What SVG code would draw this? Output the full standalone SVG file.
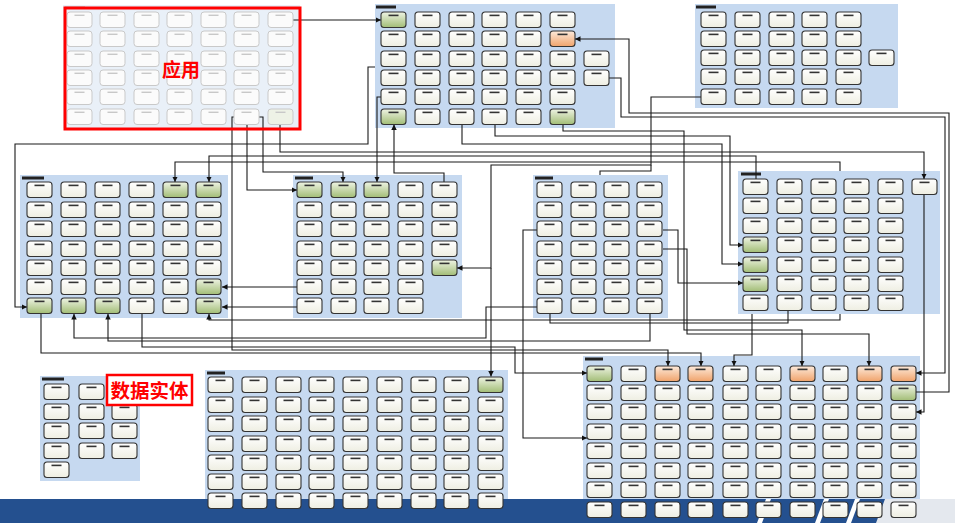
<svg xmlns="http://www.w3.org/2000/svg" width="955" height="523" viewBox="0 0 955 523">
<defs>
<linearGradient id="gw" x1="0" y1="0" x2="0" y2="1"><stop offset="0" stop-color="#ffffff"/><stop offset="1" stop-color="#eeeee2"/></linearGradient>
<linearGradient id="gg" x1="0" y1="0" x2="0" y2="1"><stop offset="0" stop-color="#eef3e3"/><stop offset="1" stop-color="#a2bd76"/></linearGradient>
<linearGradient id="go" x1="0" y1="0" x2="0" y2="1"><stop offset="0" stop-color="#fdeadb"/><stop offset="1" stop-color="#f0a36b"/></linearGradient>
<marker id="ar" viewBox="0 0 10 10" refX="10" refY="5" markerWidth="5" markerHeight="5" orient="auto-start-reverse"><path d="M0,0L10,5L0,10z" fill="#111"/></marker>
<g id="n"><rect width="25" height="15.5" rx="3" fill="url(#gw)" stroke="#333" stroke-width="1.1"/><rect x="7.5" y="2.6" width="10" height="1.6" fill="#333"/></g>
<g id="g"><rect width="25" height="15.5" rx="3" fill="url(#gg)" stroke="#333" stroke-width="1.1"/><rect x="7.5" y="2.6" width="10" height="1.6" fill="#333"/></g>
<g id="o"><rect width="25" height="15.5" rx="3" fill="url(#go)" stroke="#333" stroke-width="1.1"/><rect x="7.5" y="2.6" width="10" height="1.6" fill="#333"/></g>
<g id="f"><rect width="25" height="15.5" rx="3" fill="#fbfbfb" stroke="#c9c9c9" stroke-width="1"/><rect x="7.5" y="2.6" width="10" height="1.4" fill="#c8c8c8"/></g>
<g id="fg"><rect width="25" height="15.5" rx="3" fill="#eef2e6" stroke="#c9c9c9" stroke-width="1"/><rect x="7.5" y="2.6" width="10" height="1.4" fill="#c8c8c8"/></g>
</defs>
<style>
.pn{fill:#c6d9f0}
.pf{fill:#e9f0f8}
.tt{fill:#222}
.cn path{fill:none;stroke:#1a1a1a;stroke-width:1.1}
.ae{marker-end:url(#ar)}
.lb{font-family:"Noto Sans CJK SC","Noto Sans CJK JP",sans-serif;font-weight:bold;fill:#ff0000;text-anchor:middle}
</style>
<rect width="955" height="523" fill="#ffffff"/>
<g id="panels">
<rect class="pf" x="63" y="5" width="237" height="123"/>
<rect class="pn" x="375" y="4" width="240" height="124"/>
<rect class="pn" x="695" y="4" width="203" height="104"/>
<rect class="pn" x="20" y="175" width="208" height="143"/>
<rect class="pn" x="293" y="175" width="169" height="143"/>
<rect class="pn" x="533" y="175" width="135" height="143"/>
<rect class="pn" x="738" y="171" width="202" height="143"/>
<rect class="pn" x="40" y="376" width="100" height="105"/>
<rect class="pn" x="205" y="370" width="303" height="142"/>
<rect class="pn" x="583" y="356" width="337" height="164"/>
<rect x="65" y="6" width="20" height="2.5" fill="#d0d0d0"/>
<rect class="tt" x="376" y="5.5" width="20" height="3"/>
<rect class="tt" x="696" y="5.5" width="20" height="3"/>
<rect class="tt" x="22" y="176.5" width="22" height="3"/>
<rect class="tt" x="295" y="176.5" width="18" height="3"/>
<rect class="tt" x="535" y="176.5" width="18" height="3"/>
<rect class="tt" x="741" y="172.5" width="20" height="3"/>
<rect class="tt" x="42" y="377.5" width="22" height="3"/>
<rect class="tt" x="207" y="371.5" width="18" height="3"/>
<rect class="tt" x="585" y="357.5" width="18" height="3"/>
</g>
<g id="footer">
<rect x="0" y="499" width="955" height="24" fill="#24508f"/>
<polygon points="757,523 766,499 771,499 762,523" fill="#ffffff"/>
<polygon points="815,523 824,499 829,499 820,523" fill="#ffffff"/>
<polygon points="846,523 855,499 860,499 851,523" fill="#ffffff"/>
<polygon points="876,523 885,499 955,499 955,523" fill="#e4e8ee"/>
</g>
<g id="connectors" class="cn">
<path class="ae" d="M293,20H381"/>
<path class="ae" d="M375,67H368V144H15V307H27"/>
<path class="ae" d="M381,97H377V182"/>
<path class="ae" d="M444,182V173H394V124.5"/>
<path class="ae" d="M259,117H263V172H343V182"/>
<path class="ae" d="M247,124.5V190H297"/>
<path class="ae" d="M234,117H232V350H668V366"/>
<path class="ae" d="M280,124.5V152H924V179"/>
<path class="ae" d="M462,124.5V144H722V264H743"/>
<path class="ae" d="M495,124.5V136H730V245H743"/>
<path class="ae" d="M701,97H651V165H491V268H457"/>
<path d="M651,165V171H600V175"/>
<path class="ae" d="M491,268V376.5"/>
<path class="ae" d="M563,124.5V131H684V330H802V366"/>
<path class="ae" d="M916,392H949V113H629V39H575"/>
<path class="ae" d="M609,78H621V117H945V373H916"/>
<path class="ae" d="M924,194.5V412H916"/>
<path class="ae" d="M297,287H222"/>
<path class="ae" d="M297,307H222"/>
<path class="ae" d="M537,230H523V438H587"/>
<path class="ae" d="M537,307H486V338H74V314"/>
<path class="ae" d="M840,171V162H175V182"/>
<path class="ae" d="M756,179V156H209V182"/>
<path class="ae" d="M41,314V353H701V366"/>
<path class="ae" d="M840,314V320H209V314"/>
<path d="M550,314V323H788V311"/>
<path class="ae" d="M650,314V341H108V314"/>
<path class="ae" d="M663,230H678V283H743"/>
<path class="ae" d="M663,249H687V334H869V366"/>
<path class="ae" d="M752,314V355H734V366"/>
<path class="ae" d="M142,314V347H515V373H587"/>
</g>
<g id="nodes">
<g id="A-0-0"><use href="#f" x="67" y="12"/></g><g id="A-0-1"><use href="#f" x="100" y="12"/></g><g id="A-0-2"><use href="#f" x="134" y="12"/></g><g id="A-0-3"><use href="#f" x="167" y="12"/></g><g id="A-0-4"><use href="#f" x="201" y="12"/></g><g id="A-0-5"><use href="#f" x="234" y="12"/></g><g id="A-0-6"><use href="#f" x="268" y="12"/></g>
<g id="A-1-0"><use href="#f" x="67" y="31"/></g><g id="A-1-1"><use href="#f" x="100" y="31"/></g><g id="A-1-2"><use href="#f" x="134" y="31"/></g><g id="A-1-3"><use href="#f" x="167" y="31"/></g><g id="A-1-4"><use href="#f" x="201" y="31"/></g><g id="A-1-5"><use href="#f" x="234" y="31"/></g><g id="A-1-6"><use href="#f" x="268" y="31"/></g>
<g id="A-2-0"><use href="#f" x="67" y="51"/></g><g id="A-2-1"><use href="#f" x="100" y="51"/></g><g id="A-2-2"><use href="#f" x="134" y="51"/></g><g id="A-2-3"><use href="#f" x="167" y="51"/></g><g id="A-2-4"><use href="#f" x="201" y="51"/></g><g id="A-2-5"><use href="#f" x="234" y="51"/></g><g id="A-2-6"><use href="#f" x="268" y="51"/></g>
<g id="A-3-0"><use href="#f" x="67" y="70"/></g><g id="A-3-1"><use href="#f" x="100" y="70"/></g><g id="A-3-2"><use href="#f" x="134" y="70"/></g><g id="A-3-3"><use href="#f" x="167" y="70"/></g><g id="A-3-4"><use href="#f" x="201" y="70"/></g><g id="A-3-5"><use href="#f" x="234" y="70"/></g><g id="A-3-6"><use href="#f" x="268" y="70"/></g>
<g id="A-4-0"><use href="#f" x="67" y="89"/></g><g id="A-4-1"><use href="#f" x="100" y="89"/></g><g id="A-4-2"><use href="#f" x="134" y="89"/></g><g id="A-4-3"><use href="#f" x="167" y="89"/></g><g id="A-4-4"><use href="#f" x="201" y="89"/></g><g id="A-4-5"><use href="#f" x="234" y="89"/></g><g id="A-4-6"><use href="#f" x="268" y="89"/></g>
<g id="A-5-0"><use href="#f" x="67" y="109"/></g><g id="A-5-1"><use href="#f" x="100" y="109"/></g><g id="A-5-2"><use href="#f" x="134" y="109"/></g><g id="A-5-3"><use href="#f" x="167" y="109"/></g><g id="A-5-4"><use href="#f" x="201" y="109"/></g><g id="A-5-5"><use href="#f" x="234" y="109"/></g><g id="A-5-6"><use href="#fg" x="268" y="109"/></g>

<g id="B-0-0"><use href="#g" x="381" y="12"/></g><g id="B-0-1"><use href="#n" x="415" y="12"/></g><g id="B-0-2"><use href="#n" x="449" y="12"/></g><g id="B-0-3"><use href="#n" x="482" y="12"/></g><g id="B-0-4"><use href="#n" x="516" y="12"/></g><g id="B-0-5"><use href="#n" x="550" y="12"/></g>
<g id="B-1-0"><use href="#n" x="381" y="31"/></g><g id="B-1-1"><use href="#n" x="415" y="31"/></g><g id="B-1-2"><use href="#n" x="449" y="31"/></g><g id="B-1-3"><use href="#n" x="482" y="31"/></g><g id="B-1-4"><use href="#n" x="516" y="31"/></g><g id="B-1-5"><use href="#o" x="550" y="31"/></g>
<g id="B-2-0"><use href="#n" x="381" y="51"/></g><g id="B-2-1"><use href="#n" x="415" y="51"/></g><g id="B-2-2"><use href="#n" x="449" y="51"/></g><g id="B-2-3"><use href="#n" x="482" y="51"/></g><g id="B-2-4"><use href="#n" x="516" y="51"/></g><g id="B-2-5"><use href="#n" x="550" y="51"/></g><g id="B-2-6"><use href="#n" x="584" y="51"/></g>
<g id="B-3-0"><use href="#n" x="381" y="70"/></g><g id="B-3-1"><use href="#n" x="415" y="70"/></g><g id="B-3-2"><use href="#n" x="449" y="70"/></g><g id="B-3-3"><use href="#n" x="482" y="70"/></g><g id="B-3-4"><use href="#n" x="516" y="70"/></g><g id="B-3-5"><use href="#n" x="550" y="70"/></g><g id="B-3-6"><use href="#n" x="584" y="70"/></g>
<g id="B-4-0"><use href="#n" x="381" y="89"/></g><g id="B-4-1"><use href="#n" x="415" y="89"/></g><g id="B-4-2"><use href="#n" x="449" y="89"/></g><g id="B-4-3"><use href="#n" x="482" y="89"/></g><g id="B-4-4"><use href="#n" x="516" y="89"/></g><g id="B-4-5"><use href="#n" x="550" y="89"/></g>
<g id="B-5-0"><use href="#g" x="381" y="109"/></g><g id="B-5-1"><use href="#n" x="415" y="109"/></g><g id="B-5-2"><use href="#n" x="449" y="109"/></g><g id="B-5-3"><use href="#n" x="482" y="109"/></g><g id="B-5-4"><use href="#n" x="516" y="109"/></g><g id="B-5-5"><use href="#g" x="550" y="109"/></g>

<g id="C-0-0"><use href="#n" x="701" y="12"/></g><g id="C-0-1"><use href="#n" x="735" y="12"/></g><g id="C-0-2"><use href="#n" x="769" y="12"/></g><g id="C-0-3"><use href="#n" x="802" y="12"/></g><g id="C-0-4"><use href="#n" x="836" y="12"/></g>
<g id="C-1-0"><use href="#n" x="701" y="31"/></g><g id="C-1-1"><use href="#n" x="735" y="31"/></g><g id="C-1-2"><use href="#n" x="769" y="31"/></g><g id="C-1-3"><use href="#n" x="802" y="31"/></g><g id="C-1-4"><use href="#n" x="836" y="31"/></g>
<g id="C-2-0"><use href="#n" x="701" y="50"/></g><g id="C-2-1"><use href="#n" x="735" y="50"/></g><g id="C-2-2"><use href="#n" x="769" y="50"/></g><g id="C-2-3"><use href="#n" x="802" y="50"/></g><g id="C-2-4"><use href="#n" x="836" y="50"/></g><g id="C-2-5"><use href="#n" x="869" y="50"/></g>
<g id="C-3-0"><use href="#n" x="701" y="69"/></g><g id="C-3-1"><use href="#n" x="735" y="69"/></g><g id="C-3-2"><use href="#n" x="769" y="69"/></g><g id="C-3-3"><use href="#n" x="802" y="69"/></g><g id="C-3-4"><use href="#n" x="836" y="69"/></g>
<g id="C-4-0"><use href="#n" x="701" y="89"/></g><g id="C-4-1"><use href="#n" x="735" y="89"/></g><g id="C-4-2"><use href="#n" x="769" y="89"/></g><g id="C-4-3"><use href="#n" x="802" y="89"/></g><g id="C-4-4"><use href="#n" x="836" y="89"/></g>

<g id="D-0-0"><use href="#n" x="27" y="182"/></g><g id="D-0-1"><use href="#n" x="61" y="182"/></g><g id="D-0-2"><use href="#n" x="95" y="182"/></g><g id="D-0-3"><use href="#n" x="129" y="182"/></g><g id="D-0-4"><use href="#g" x="163" y="182"/></g><g id="D-0-5"><use href="#g" x="196" y="182"/></g>
<g id="D-1-0"><use href="#n" x="27" y="202"/></g><g id="D-1-1"><use href="#n" x="61" y="202"/></g><g id="D-1-2"><use href="#n" x="95" y="202"/></g><g id="D-1-3"><use href="#n" x="129" y="202"/></g><g id="D-1-4"><use href="#n" x="163" y="202"/></g><g id="D-1-5"><use href="#n" x="196" y="202"/></g>
<g id="D-2-0"><use href="#n" x="27" y="221"/></g><g id="D-2-1"><use href="#n" x="61" y="221"/></g><g id="D-2-2"><use href="#n" x="95" y="221"/></g><g id="D-2-3"><use href="#n" x="129" y="221"/></g><g id="D-2-4"><use href="#n" x="163" y="221"/></g><g id="D-2-5"><use href="#n" x="196" y="221"/></g>
<g id="D-3-0"><use href="#n" x="27" y="241"/></g><g id="D-3-1"><use href="#n" x="61" y="241"/></g><g id="D-3-2"><use href="#n" x="95" y="241"/></g><g id="D-3-3"><use href="#n" x="129" y="241"/></g><g id="D-3-4"><use href="#n" x="163" y="241"/></g><g id="D-3-5"><use href="#n" x="196" y="241"/></g>
<g id="D-4-0"><use href="#n" x="27" y="260"/></g><g id="D-4-1"><use href="#n" x="61" y="260"/></g><g id="D-4-2"><use href="#n" x="95" y="260"/></g><g id="D-4-3"><use href="#n" x="129" y="260"/></g><g id="D-4-4"><use href="#n" x="163" y="260"/></g><g id="D-4-5"><use href="#n" x="196" y="260"/></g>
<g id="D-5-0"><use href="#n" x="27" y="279"/></g><g id="D-5-1"><use href="#n" x="61" y="279"/></g><g id="D-5-2"><use href="#n" x="95" y="279"/></g><g id="D-5-3"><use href="#n" x="129" y="279"/></g><g id="D-5-4"><use href="#n" x="163" y="279"/></g><g id="D-5-5"><use href="#g" x="196" y="279"/></g>
<g id="D-6-0"><use href="#g" x="27" y="298"/></g><g id="D-6-1"><use href="#g" x="61" y="298"/></g><g id="D-6-2"><use href="#g" x="95" y="298"/></g><g id="D-6-3"><use href="#n" x="129" y="298"/></g><g id="D-6-4"><use href="#n" x="163" y="298"/></g><g id="D-6-5"><use href="#g" x="196" y="298"/></g>

<g id="E-0-0"><use href="#g" x="297" y="182"/></g><g id="E-0-1"><use href="#g" x="331" y="182"/></g><g id="E-0-2"><use href="#g" x="364" y="182"/></g><g id="E-0-3"><use href="#n" x="398" y="182"/></g><g id="E-0-4"><use href="#n" x="432" y="182"/></g>
<g id="E-1-0"><use href="#n" x="297" y="202"/></g><g id="E-1-1"><use href="#n" x="331" y="202"/></g><g id="E-1-2"><use href="#n" x="364" y="202"/></g><g id="E-1-3"><use href="#n" x="398" y="202"/></g><g id="E-1-4"><use href="#n" x="432" y="202"/></g>
<g id="E-2-0"><use href="#n" x="297" y="221"/></g><g id="E-2-1"><use href="#n" x="331" y="221"/></g><g id="E-2-2"><use href="#n" x="364" y="221"/></g><g id="E-2-3"><use href="#n" x="398" y="221"/></g><g id="E-2-4"><use href="#n" x="432" y="221"/></g>
<g id="E-3-0"><use href="#n" x="297" y="241"/></g><g id="E-3-1"><use href="#n" x="331" y="241"/></g><g id="E-3-2"><use href="#n" x="364" y="241"/></g><g id="E-3-3"><use href="#n" x="398" y="241"/></g><g id="E-3-4"><use href="#n" x="432" y="241"/></g>
<g id="E-4-0"><use href="#n" x="297" y="260"/></g><g id="E-4-1"><use href="#n" x="331" y="260"/></g><g id="E-4-2"><use href="#n" x="364" y="260"/></g><g id="E-4-3"><use href="#n" x="398" y="260"/></g><g id="E-4-4"><use href="#g" x="432" y="260"/></g>
<g id="E-5-0"><use href="#n" x="297" y="279"/></g><g id="E-5-1"><use href="#n" x="331" y="279"/></g><g id="E-5-2"><use href="#n" x="364" y="279"/></g><g id="E-5-3"><use href="#n" x="398" y="279"/></g>
<g id="E-6-0"><use href="#n" x="297" y="298"/></g><g id="E-6-1"><use href="#n" x="331" y="298"/></g><g id="E-6-2"><use href="#n" x="364" y="298"/></g><g id="E-6-3"><use href="#n" x="398" y="298"/></g>

<g id="F-0-0"><use href="#n" x="537" y="182"/></g><g id="F-0-1"><use href="#n" x="571" y="182"/></g><g id="F-0-2"><use href="#n" x="604" y="182"/></g><g id="F-0-3"><use href="#n" x="637" y="182"/></g>
<g id="F-1-0"><use href="#n" x="537" y="202"/></g><g id="F-1-1"><use href="#n" x="571" y="202"/></g><g id="F-1-2"><use href="#n" x="604" y="202"/></g><g id="F-1-3"><use href="#n" x="637" y="202"/></g>
<g id="F-2-0"><use href="#n" x="537" y="221"/></g><g id="F-2-1"><use href="#n" x="571" y="221"/></g><g id="F-2-2"><use href="#n" x="604" y="221"/></g><g id="F-2-3"><use href="#n" x="637" y="221"/></g>
<g id="F-3-0"><use href="#n" x="537" y="241"/></g><g id="F-3-1"><use href="#n" x="571" y="241"/></g><g id="F-3-2"><use href="#n" x="604" y="241"/></g><g id="F-3-3"><use href="#n" x="637" y="241"/></g>
<g id="F-4-0"><use href="#n" x="537" y="260"/></g><g id="F-4-1"><use href="#n" x="571" y="260"/></g><g id="F-4-2"><use href="#n" x="604" y="260"/></g><g id="F-4-3"><use href="#n" x="637" y="260"/></g>
<g id="F-5-0"><use href="#n" x="537" y="279"/></g><g id="F-5-1"><use href="#n" x="571" y="279"/></g><g id="F-5-2"><use href="#n" x="604" y="279"/></g><g id="F-5-3"><use href="#n" x="637" y="279"/></g>
<g id="F-6-0"><use href="#n" x="537" y="298"/></g><g id="F-6-1"><use href="#n" x="571" y="298"/></g><g id="F-6-2"><use href="#n" x="604" y="298"/></g><g id="F-6-3"><use href="#n" x="637" y="298"/></g>

<g id="G-0-0"><use href="#n" x="743" y="179"/></g><g id="G-0-1"><use href="#n" x="777" y="179"/></g><g id="G-0-2"><use href="#n" x="811" y="179"/></g><g id="G-0-3"><use href="#n" x="844" y="179"/></g><g id="G-0-4"><use href="#n" x="878" y="179"/></g><g id="G-0-5"><use href="#n" x="912" y="179"/></g>
<g id="G-1-0"><use href="#n" x="743" y="198"/></g><g id="G-1-1"><use href="#n" x="777" y="198"/></g><g id="G-1-2"><use href="#n" x="811" y="198"/></g><g id="G-1-3"><use href="#n" x="844" y="198"/></g><g id="G-1-4"><use href="#n" x="878" y="198"/></g>
<g id="G-2-0"><use href="#n" x="743" y="218"/></g><g id="G-2-1"><use href="#n" x="777" y="218"/></g><g id="G-2-2"><use href="#n" x="811" y="218"/></g><g id="G-2-3"><use href="#n" x="844" y="218"/></g><g id="G-2-4"><use href="#n" x="878" y="218"/></g>
<g id="G-3-0"><use href="#g" x="743" y="237"/></g><g id="G-3-1"><use href="#n" x="777" y="237"/></g><g id="G-3-2"><use href="#n" x="811" y="237"/></g><g id="G-3-3"><use href="#n" x="844" y="237"/></g><g id="G-3-4"><use href="#n" x="878" y="237"/></g>
<g id="G-4-0"><use href="#g" x="743" y="257"/></g><g id="G-4-1"><use href="#n" x="777" y="257"/></g><g id="G-4-2"><use href="#n" x="811" y="257"/></g><g id="G-4-3"><use href="#n" x="844" y="257"/></g><g id="G-4-4"><use href="#n" x="878" y="257"/></g>
<g id="G-5-0"><use href="#g" x="743" y="276"/></g><g id="G-5-1"><use href="#n" x="777" y="276"/></g><g id="G-5-2"><use href="#n" x="811" y="276"/></g><g id="G-5-3"><use href="#n" x="844" y="276"/></g><g id="G-5-4"><use href="#n" x="878" y="276"/></g>
<g id="G-6-0"><use href="#n" x="743" y="295"/></g><g id="G-6-1"><use href="#n" x="777" y="295"/></g><g id="G-6-2"><use href="#n" x="811" y="295"/></g><g id="G-6-3"><use href="#n" x="844" y="295"/></g><g id="G-6-4"><use href="#n" x="878" y="295"/></g>

<g id="H-0-0"><use href="#n" x="44" y="384"/></g><g id="H-0-1"><use href="#n" x="79" y="384"/></g><g id="H-0-2"><use href="#n" x="112" y="384"/></g>
<g id="H-1-0"><use href="#n" x="44" y="404"/></g><g id="H-1-1"><use href="#n" x="79" y="404"/></g><g id="H-1-2"><use href="#n" x="112" y="404"/></g>
<g id="H-2-0"><use href="#n" x="44" y="423"/></g><g id="H-2-1"><use href="#n" x="79" y="423"/></g><g id="H-2-2"><use href="#n" x="112" y="423"/></g>
<g id="H-3-0"><use href="#n" x="44" y="443"/></g><g id="H-3-1"><use href="#n" x="79" y="443"/></g><g id="H-3-2"><use href="#n" x="112" y="443"/></g>
<g id="H-4-0"><use href="#n" x="44" y="462"/></g>

<g id="I-0-0"><use href="#n" x="208" y="377"/></g><g id="I-0-1"><use href="#n" x="242" y="377"/></g><g id="I-0-2"><use href="#n" x="276" y="377"/></g><g id="I-0-3"><use href="#n" x="309" y="377"/></g><g id="I-0-4"><use href="#n" x="343" y="377"/></g><g id="I-0-5"><use href="#n" x="377" y="377"/></g><g id="I-0-6"><use href="#n" x="411" y="377"/></g><g id="I-0-7"><use href="#n" x="444" y="377"/></g><g id="I-0-8"><use href="#g" x="478" y="377"/></g>
<g id="I-1-0"><use href="#n" x="208" y="397"/></g><g id="I-1-1"><use href="#n" x="242" y="397"/></g><g id="I-1-2"><use href="#n" x="276" y="397"/></g><g id="I-1-3"><use href="#n" x="309" y="397"/></g><g id="I-1-4"><use href="#n" x="343" y="397"/></g><g id="I-1-5"><use href="#n" x="377" y="397"/></g><g id="I-1-6"><use href="#n" x="411" y="397"/></g><g id="I-1-7"><use href="#n" x="444" y="397"/></g><g id="I-1-8"><use href="#n" x="478" y="397"/></g>
<g id="I-2-0"><use href="#n" x="208" y="416"/></g><g id="I-2-1"><use href="#n" x="242" y="416"/></g><g id="I-2-2"><use href="#n" x="276" y="416"/></g><g id="I-2-3"><use href="#n" x="309" y="416"/></g><g id="I-2-4"><use href="#n" x="343" y="416"/></g><g id="I-2-5"><use href="#n" x="377" y="416"/></g><g id="I-2-6"><use href="#n" x="411" y="416"/></g><g id="I-2-7"><use href="#n" x="444" y="416"/></g><g id="I-2-8"><use href="#n" x="478" y="416"/></g>
<g id="I-3-0"><use href="#n" x="208" y="436"/></g><g id="I-3-1"><use href="#n" x="242" y="436"/></g><g id="I-3-2"><use href="#n" x="276" y="436"/></g><g id="I-3-3"><use href="#n" x="309" y="436"/></g><g id="I-3-4"><use href="#n" x="343" y="436"/></g><g id="I-3-5"><use href="#n" x="377" y="436"/></g><g id="I-3-6"><use href="#n" x="411" y="436"/></g><g id="I-3-7"><use href="#n" x="444" y="436"/></g><g id="I-3-8"><use href="#n" x="478" y="436"/></g>
<g id="I-4-0"><use href="#n" x="208" y="455"/></g><g id="I-4-1"><use href="#n" x="242" y="455"/></g><g id="I-4-2"><use href="#n" x="276" y="455"/></g><g id="I-4-3"><use href="#n" x="309" y="455"/></g><g id="I-4-4"><use href="#n" x="343" y="455"/></g><g id="I-4-5"><use href="#n" x="377" y="455"/></g><g id="I-4-6"><use href="#n" x="411" y="455"/></g><g id="I-4-7"><use href="#n" x="444" y="455"/></g><g id="I-4-8"><use href="#n" x="478" y="455"/></g>
<g id="I-5-0"><use href="#n" x="208" y="474"/></g><g id="I-5-1"><use href="#n" x="242" y="474"/></g><g id="I-5-2"><use href="#n" x="276" y="474"/></g><g id="I-5-3"><use href="#n" x="309" y="474"/></g><g id="I-5-4"><use href="#n" x="343" y="474"/></g><g id="I-5-5"><use href="#n" x="377" y="474"/></g><g id="I-5-6"><use href="#n" x="411" y="474"/></g><g id="I-5-7"><use href="#n" x="444" y="474"/></g><g id="I-5-8"><use href="#n" x="478" y="474"/></g>
<g id="I-6-0"><use href="#n" x="208" y="493"/></g><g id="I-6-1"><use href="#n" x="242" y="493"/></g><g id="I-6-2"><use href="#n" x="276" y="493"/></g><g id="I-6-3"><use href="#n" x="309" y="493"/></g><g id="I-6-4"><use href="#n" x="343" y="493"/></g><g id="I-6-5"><use href="#n" x="377" y="493"/></g><g id="I-6-6"><use href="#n" x="411" y="493"/></g><g id="I-6-7"><use href="#n" x="444" y="493"/></g><g id="I-6-8"><use href="#n" x="478" y="493"/></g>

<g id="J-0-0"><use href="#g" x="587" y="366"/></g><g id="J-0-1"><use href="#n" x="621" y="366"/></g><g id="J-0-2"><use href="#o" x="655" y="366"/></g><g id="J-0-3"><use href="#o" x="688" y="366"/></g><g id="J-0-4"><use href="#n" x="723" y="366"/></g><g id="J-0-5"><use href="#n" x="756" y="366"/></g><g id="J-0-6"><use href="#o" x="790" y="366"/></g><g id="J-0-7"><use href="#n" x="823" y="366"/></g><g id="J-0-8"><use href="#o" x="857" y="366"/></g><g id="J-0-9"><use href="#o" x="891" y="366"/></g>
<g id="J-1-0"><use href="#n" x="587" y="385"/></g><g id="J-1-1"><use href="#n" x="621" y="385"/></g><g id="J-1-2"><use href="#n" x="655" y="385"/></g><g id="J-1-3"><use href="#n" x="688" y="385"/></g><g id="J-1-4"><use href="#n" x="723" y="385"/></g><g id="J-1-5"><use href="#n" x="756" y="385"/></g><g id="J-1-6"><use href="#n" x="790" y="385"/></g><g id="J-1-7"><use href="#n" x="823" y="385"/></g><g id="J-1-8"><use href="#n" x="857" y="385"/></g><g id="J-1-9"><use href="#g" x="891" y="385"/></g>
<g id="J-2-0"><use href="#n" x="587" y="404"/></g><g id="J-2-1"><use href="#n" x="621" y="404"/></g><g id="J-2-2"><use href="#n" x="655" y="404"/></g><g id="J-2-3"><use href="#n" x="688" y="404"/></g><g id="J-2-4"><use href="#n" x="723" y="404"/></g><g id="J-2-5"><use href="#n" x="756" y="404"/></g><g id="J-2-6"><use href="#n" x="790" y="404"/></g><g id="J-2-7"><use href="#n" x="823" y="404"/></g><g id="J-2-8"><use href="#n" x="857" y="404"/></g><g id="J-2-9"><use href="#n" x="891" y="404"/></g>
<g id="J-3-0"><use href="#n" x="587" y="424"/></g><g id="J-3-1"><use href="#n" x="621" y="424"/></g><g id="J-3-2"><use href="#n" x="655" y="424"/></g><g id="J-3-3"><use href="#n" x="688" y="424"/></g><g id="J-3-4"><use href="#n" x="723" y="424"/></g><g id="J-3-5"><use href="#n" x="756" y="424"/></g><g id="J-3-6"><use href="#n" x="790" y="424"/></g><g id="J-3-7"><use href="#n" x="823" y="424"/></g><g id="J-3-8"><use href="#n" x="857" y="424"/></g><g id="J-3-9"><use href="#n" x="891" y="424"/></g>
<g id="J-4-0"><use href="#n" x="587" y="443"/></g><g id="J-4-1"><use href="#n" x="621" y="443"/></g><g id="J-4-2"><use href="#n" x="655" y="443"/></g><g id="J-4-3"><use href="#n" x="688" y="443"/></g><g id="J-4-4"><use href="#n" x="723" y="443"/></g><g id="J-4-5"><use href="#n" x="756" y="443"/></g><g id="J-4-6"><use href="#n" x="790" y="443"/></g><g id="J-4-7"><use href="#n" x="823" y="443"/></g><g id="J-4-8"><use href="#n" x="857" y="443"/></g><g id="J-4-9"><use href="#n" x="891" y="443"/></g>
<g id="J-5-0"><use href="#n" x="587" y="463"/></g><g id="J-5-1"><use href="#n" x="621" y="463"/></g><g id="J-5-2"><use href="#n" x="655" y="463"/></g><g id="J-5-3"><use href="#n" x="688" y="463"/></g><g id="J-5-4"><use href="#n" x="723" y="463"/></g><g id="J-5-5"><use href="#n" x="756" y="463"/></g><g id="J-5-6"><use href="#n" x="790" y="463"/></g><g id="J-5-7"><use href="#n" x="823" y="463"/></g><g id="J-5-8"><use href="#n" x="857" y="463"/></g><g id="J-5-9"><use href="#n" x="891" y="463"/></g>
<g id="J-6-0"><use href="#n" x="587" y="482"/></g><g id="J-6-1"><use href="#n" x="621" y="482"/></g><g id="J-6-2"><use href="#n" x="655" y="482"/></g><g id="J-6-3"><use href="#n" x="688" y="482"/></g><g id="J-6-4"><use href="#n" x="723" y="482"/></g><g id="J-6-5"><use href="#n" x="756" y="482"/></g><g id="J-6-6"><use href="#n" x="790" y="482"/></g><g id="J-6-7"><use href="#n" x="823" y="482"/></g><g id="J-6-8"><use href="#n" x="857" y="482"/></g><g id="J-6-9"><use href="#n" x="891" y="482"/></g>
<g id="J-7-0"><use href="#n" x="587" y="502"/></g><g id="J-7-1"><use href="#n" x="621" y="502"/></g><g id="J-7-2"><use href="#n" x="655" y="502"/></g><g id="J-7-3"><use href="#n" x="688" y="502"/></g><g id="J-7-4"><use href="#n" x="723" y="502"/></g><g id="J-7-5"><use href="#n" x="756" y="502"/></g><g id="J-7-6"><use href="#n" x="790" y="502"/></g><g id="J-7-7"><use href="#n" x="823" y="502"/></g><g id="J-7-8"><use href="#n" x="857" y="502"/></g><g id="J-7-9"><use href="#n" x="891" y="502"/></g>
</g>
<g id="labels">
<rect x="65" y="8" width="235" height="121" fill="none" stroke="#ff0000" stroke-width="3"/>
<text class="lb" x="181" y="77" font-size="19">应用</text>
<rect x="107" y="375" width="85" height="30" fill="#ffffff" stroke="#ff0000" stroke-width="2.5"/>
<text class="lb" x="149.5" y="398" font-size="19.5">数据实体</text>
</g>
</svg>
